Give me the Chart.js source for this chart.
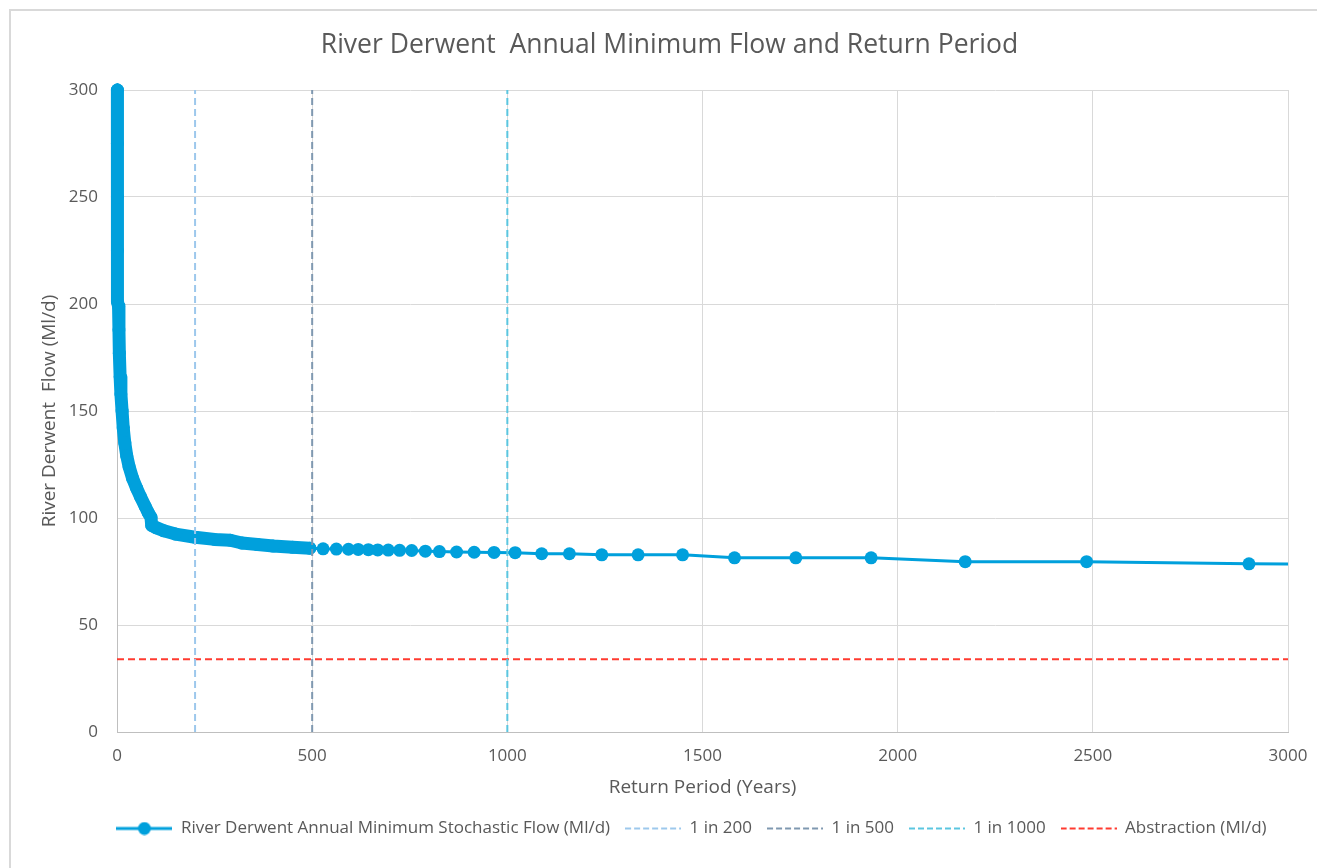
<!DOCTYPE html>
<html>
<head>
<meta charset="utf-8">
<script src="https://cdn.jsdelivr.net/npm/chart.js@4.4.1/dist/chart.umd.min.js"></script>
<style>
  html, body { margin: 0; padding: 0; background: #fff; overflow: hidden; }
  #frame { position: absolute; left: 9px; top: 9px; width: 1400px; height: 900px;
           border-top: 2px solid #d9d9d9; border-left: 2px solid #d9d9d9; }
  #wrap { position: absolute; left: 0; top: 0; width: 1317px; height: 868px; }
</style>
</head>
<body>
<div id="frame"></div>
<div id="wrap"><canvas id="chart" width="1317" height="868"></canvas></div>
<script>
// return period (years) and annual minimum flow (Ml/d)
const returnPeriod = [1, 1.05, 1.1, 1.2, 1.3, 4, 5, 6, 8, 10, 13, 16, 20, 25, 31, 40, 50, 60, 72, 80, 87,
  89, 100, 120, 150, 200, 250, 290, 320, 360, 400, 450, 494,
  528, 562, 593, 618, 644, 668, 695, 724, 755, 790, 826, 870, 915, 966,
  1020, 1088, 1159, 1242, 1335, 1449, 1582, 1739, 1932, 2173, 2484, 2900, 3480];
const minFlow = [300, 275, 250, 225, 201, 199, 188, 177, 166, 158, 150, 142, 135, 129, 124, 118.5, 114, 110, 105.5, 102.5, 100.3,
  96.5, 95.5, 94, 92.5, 91, 90, 89.6, 88.3, 87.6, 86.9, 86.3, 85.9,
  85.6, 85.5, 85.4, 85.3, 85.2, 85.1, 85.0, 84.9, 84.8, 84.5, 84.3, 84.1, 84.0, 83.9,
  83.8, 83.3, 83.3, 82.8, 82.8, 82.8, 81.4, 81.4, 81.4, 79.6, 79.6, 78.6, 78.3];

const refLabels = ['1 in 200', '1 in 500', '1 in 1000'];
const refYears = [200, 500, 1000];
const refColors = ['#9dc8ec', '#7f98b0', '#5bc6e0'];

const abstractionLabel = 'Abstraction (Ml/d)';
const abstractionFlow = 34;

const seriesLabel = 'River Derwent Annual Minimum Stochastic Flow (Ml/d)';
const seriesColor = '#00a0dc';
const redColor = '#ff3b30';

const FONT = "'Open Sans', 'Liberation Sans', sans-serif";
const GREY = '#595959';

// small legend swatches
function swatch(color, dashed, dot) {
  const c = document.createElement('canvas');
  c.width = 56; c.height = 14;
  const g = c.getContext('2d');
  g.strokeStyle = color;
  g.lineWidth = dashed ? 2 : 3;
  if (dashed) g.setLineDash([6, 3]);
  g.beginPath(); g.moveTo(0, 7); g.lineTo(56, 7); g.stroke();
  if (dot) {
    g.fillStyle = color;
    g.beginPath(); g.arc(28, 7, 6.5, 0, Math.PI * 2); g.fill();
  }
  return c;
}

const datasets = [{
  label: seriesLabel,
  data: returnPeriod.map((t, i) => ({x: t, y: minFlow[i]})),
  showLine: true,
  borderColor: seriesColor,
  backgroundColor: seriesColor,
  borderWidth: 3,
  borderJoinStyle: 'round',
  borderCapStyle: 'round',
  pointRadius: 6.5,
  pointBorderWidth: 0,
  pointBackgroundColor: seriesColor,
  segment: { borderWidth: ctx => ctx.p1.parsed.x < 500 ? 13 : 3 },
  clip: {left: 10, top: 10, right: 0, bottom: 10},
  order: 1,
  _swatch: swatch(seriesColor, false, true)
}];
refYears.forEach((yr, i) => {
  datasets.push({
    label: refLabels[i],
    data: [{x: yr, y: 0}, {x: yr, y: 300}],
    showLine: true,
    borderColor: refColors[i],
    borderWidth: 2,
    borderDash: [7, 4],
    pointRadius: 0,
    order: 0,
    _swatch: swatch(refColors[i], true, false)
  });
});
datasets.push({
  label: abstractionLabel,
  data: [{x: 0, y: abstractionFlow}, {x: 3000, y: abstractionFlow}],
  showLine: true,
  borderColor: redColor,
  borderWidth: 2,
  borderDash: [7, 4],
  pointRadius: 0,
  order: 0,
  _swatch: swatch(redColor, true, false)
});

// nudge the legend a little to the right, as in the original
const legendShift = {
  id: 'legendShift',
  afterLayout(chart) {
    chart.legend.left += 22;
    chart.legend.right += 22;
  }
};

new Chart(document.getElementById('chart'), {
  type: 'scatter',
  data: { datasets },
  plugins: [legendShift],
  options: {
    responsive: false,
    animation: false,
    layout: { padding: { left: 51, right: 29, top: 0, bottom: 21 } },
    plugins: {
      tooltip: { enabled: false },
      title: {
        display: true,
        text: 'River Derwent  Annual Minimum Flow and Return Period',
        color: GREY,
        font: { family: FONT, size: 26.5, weight: 'normal' },
        padding: { top: 30, bottom: 28.2 }
      },
      legend: {
        position: 'bottom',
        labels: {
          color: GREY,
          font: { family: FONT, size: 17 },
          usePointStyle: true,
          pointStyleWidth: 56,
          padding: 15,
          generateLabels: chart => chart.data.datasets.map((ds, i) => ({
            text: ds.label,
            pointStyle: ds._swatch,
            fontColor: GREY,
            datasetIndex: i,
            lineWidth: 0,
            strokeStyle: 'transparent',
            fillStyle: 'transparent'
          }))
        }
      }
    },
    scales: {
      x: {
        type: 'linear',
        min: 0, max: 3000,
        ticks: { stepSize: 500, color: GREY, padding: 14, font: { family: FONT, size: 17 },
                 callback: v => String(v) },
        grid: { color: '#d9d9d9', drawTicks: false },
        border: { color: '#bfbfbf' },
        title: {
          display: true, text: 'Return Period (Years)', color: GREY,
          font: { family: FONT, size: 19 }, padding: { top: 0, bottom: 5.6 }
        },
        afterFit: s => { s.height = 73; s.paddingRight = 0; }
      },
      y: {
        type: 'linear',
        min: 0, max: 300,
        ticks: { stepSize: 50, color: GREY, padding: 19, font: { family: FONT, size: 17 } },
        grid: { color: '#d9d9d9', drawTicks: false },
        border: { color: '#bfbfbf' },
        title: {
          display: true, text: 'River Derwent  Flow (Ml/d)', color: GREY,
          font: { family: FONT, size: 19 }, padding: { top: -12.4, bottom: 0 }
        },
        afterFit: s => { s.width = 66; }
      }
    }
  }
});
</script>
</body>
</html>
